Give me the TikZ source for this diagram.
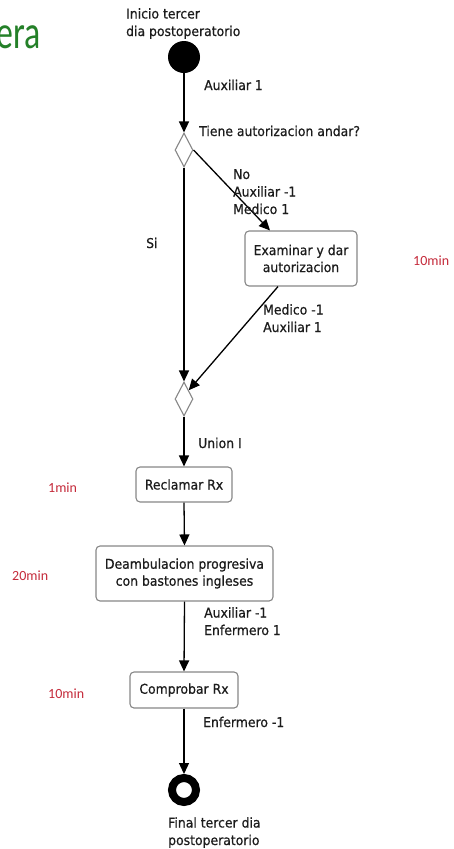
\documentclass[tikz,border=0pt]{standalone}
\usepackage{fontspec}
\setmainfont{DejaVu Sans}[FakeStretch=0.92, FakeBold=0.6]
\newfontfamily\calib{Carlito}
\newfontfamily\calibtitle{Carlito}[FakeStretch=0.72]
\usetikzlibrary{arrows.meta,shapes.geometric}
\definecolor{txt}{RGB}{28,28,28}
\definecolor{boxgray}{RGB}{135,135,135}
\definecolor{timered}{RGB}{196,42,58}
\definecolor{titlegreen}{RGB}{36,128,40}
\tikzset{
  % multi-line labels are placed by the baseline of their last line
  lbl/.style={anchor=base west, align=left, inner sep=0pt, text=txt,
    font=\fontsize{13.5}{17.5}\selectfont},
  timelbl/.style={anchor=base west, inner sep=0pt, text=timered,
    font=\calib\fontsize{14}{16}\selectfont},
  actbox/.style={draw=boxgray, line width=1.1pt, rounded corners=4pt, fill=white,
    align=center, inner sep=0pt, text=txt, font=\fontsize{13.5}{17}\selectfont},
  decision/.style={diamond, draw=boxgray, line width=1.1pt, fill=white,
    minimum width=18pt, minimum height=34pt, inner sep=0pt},
  flow/.style={draw=black, line width=1.3pt, -{Triangle[length=11pt,width=10pt]}},
}
\begin{document}
\begin{tikzpicture}[x=1pt, y=-1pt]
  \useasboundingbox (0,0) rectangle (454,849);

  % title fragment
  \node[anchor=base west, inner sep=0pt, text=titlegreen,
        font=\calibtitle\fontsize{47}{50}\selectfont] (title) at (-4,48) {era};

  % start / end states
  \node[circle, fill=black, minimum size=32pt, inner sep=0pt] (s) at (184,57) {};
  \node[lbl] (slbl) at (126,36) {Inicio tercer\\dia postoperatorio};
  \node[circle, draw=black, line width=8pt, fill=white, minimum size=24pt, inner sep=0pt] (f) at (184,790) {};
  \node[lbl] (flbl) at (168,845) {Final tercer dia\\postoperatorio};

  % decisions
  \node[decision] (d1) at (184,150) {};
  \node[decision] (d2) at (184,399) {};

  % activities
  \node[actbox, minimum width=112pt, minimum height=55pt] (ex) at (301,258.5) {Examinar y dar\\autorizacion};
  \node[actbox, minimum width=96pt, minimum height=35pt] (rx) at (184,484.5) {Reclamar Rx};
  \node[actbox, minimum width=177pt, minimum height=55pt] (de) at (184.5,573.5) {Deambulacion progresiva\\con bastones ingleses};
  \node[actbox, minimum width=108pt, minimum height=36pt] (co) at (184,690) {Comprobar Rx};

  % transitions
  \draw[flow] (s) -- (d1.north);
  \draw[flow] (d1.south) -- (d2.north);
  \draw[flow] (d1.east) -- ([xshift=-31pt]ex.north);
  \draw[flow] ([xshift=-23pt]ex.south) -- (d2.north east);
  \draw[flow] (d2.south) -- (rx.north);
  \draw[flow] (rx.south) -- (de.north);
  \draw[flow] (de.south) -- (co.north);
  \draw[flow] (co.south) -- (f.north);

  % transition labels
  \node[lbl] (l1) at (204,90) {Auxiliar 1};
  \node[lbl] (l2) at (199,136) {Tiene autorizacion andar?};
  \node[lbl] (l3) at (233,214) {No\\Auxiliar -1\\Medico 1};
  \node[lbl] (l4) at (146,248) {Si};
  \node[lbl] (l5) at (263,332) {Medico -1\\Auxiliar 1};
  \node[lbl] (l6) at (198,448) {Union I};
  \node[lbl] (l7) at (204,635) {Auxiliar -1\\Enfermero 1};
  \node[lbl] (l8) at (203,727) {Enfermero -1};

  % durations
  \node[timelbl] (t1) at (413,265) {10min};
  \node[timelbl] (t2) at (48,492) {1min};
  \node[timelbl] (t3) at (12,580) {20min};
  \node[timelbl] (t4) at (48,698) {10min};
\end{tikzpicture}
\end{document}
